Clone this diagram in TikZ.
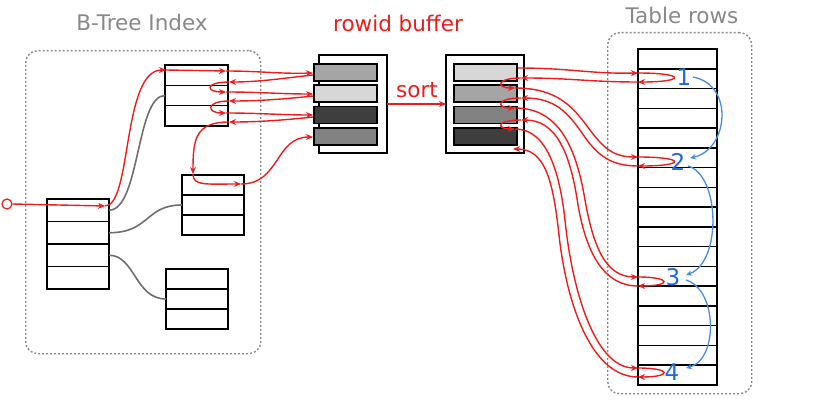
\documentclass[tikz,border=0pt]{standalone}
\usepackage{fontspec}
\setmainfont{DejaVu Sans}
\usetikzlibrary{arrows.meta}
\definecolor{rd}{RGB}{236,28,28}
\definecolor{gr}{RGB}{136,136,136}
\definecolor{dgr}{RGB}{110,110,110}
\definecolor{bl}{RGB}{30,105,225}
\definecolor{bla}{RGB}{70,140,230}
\definecolor{gA}{RGB}{215,215,215}
\definecolor{gB}{RGB}{165,165,165}
\definecolor{gC}{RGB}{130,130,130}
\definecolor{gD}{RGB}{62,62,62}
\begin{document}
\begin{tikzpicture}[x=1pt,y=-1pt,
  cell/.style={draw=black, line width=1.5pt, inner sep=0pt, outer sep=0pt, anchor=north west},
  dbox/.style={draw=gr, dash pattern=on 2pt off 2pt, line width=1.4pt, rounded corners=12pt, inner sep=0pt, anchor=north west},
  rl/.style={draw=rd, line width=1.4pt, -{Stealth[length=7pt,width=6pt]}},
  gl/.style={draw=dgr, line width=1.6pt},
  bll/.style={draw=bla, line width=1.3pt, -{Stealth[length=6pt,width=5.5pt]}},
  ttl/.style={inner sep=0pt, font=\fontsize{21.5}{21.5}\selectfont},
  num/.style={inner sep=0pt, text=bl, font=\fontsize{23}{23}\selectfont}]
\useasboundingbox (0,0) rectangle (822,403);
% dashed frames
\node[dbox, minimum width=235pt, minimum height=303pt] (idx) at (25,50) {};
\node[dbox, minimum width=144pt, minimum height=361pt] (tbl) at (607,32) {};
% titles
\node[ttl, text=gr] (tB) at (142,22) {B-Tree Index};
\node[ttl, text=rd] (tR) at (398,23.5) {rowid buffer};
\node[ttl, text=gr] (tT) at (682,15) {Table rows};
\node[ttl, text=rd] (tS) at (417,90) {sort};
% B-tree nodes
\foreach \i in {1,...,4}
  \node[cell, minimum width=62pt, minimum height=22.5pt] (root\i) at (47,{199+(\i-1)*22.5}) {};
\foreach \i in {1,...,3}
  \node[cell, minimum width=63pt, minimum height=20.33pt] (top\i) at (165,{65+(\i-1)*20.33}) {};
\foreach \i in {1,...,3}
  \node[cell, minimum width=62pt, minimum height=20pt] (mid\i) at (182,{175+(\i-1)*20}) {};
\foreach \i in {1,...,3}
  \node[cell, minimum width=62pt, minimum height=20pt] (bot\i) at (166,{269+(\i-1)*20}) {};
% rowid buffers
\node[cell, fill=white, minimum width=68pt, minimum height=98pt] (bufA) at (319,55) {};
\node[cell, fill=white, minimum width=78pt, minimum height=98pt] (bufB) at (446,55) {};
\node[cell, fill=gB, minimum width=63pt, minimum height=17pt] (a1s) at (314,64) {};
\node[cell, fill=gA, minimum width=63pt, minimum height=17pt] (a2s) at (314,85) {};
\node[cell, fill=gD, minimum width=63pt, minimum height=17pt] (a3s) at (314,106.5) {};
\node[cell, fill=gC, minimum width=63pt, minimum height=17pt] (a4s) at (314,128) {};
\node[cell, fill=gA, minimum width=63pt, minimum height=17pt] (b1s) at (454,64) {};
\node[cell, fill=gB, minimum width=63pt, minimum height=17pt] (b2s) at (454,85) {};
\node[cell, fill=gC, minimum width=63pt, minimum height=17pt] (b3s) at (454,106.5) {};
\node[cell, fill=gD, minimum width=63pt, minimum height=17pt] (b4s) at (454,128) {};
% table rows
\foreach \i in {1,...,17}
  \node[cell, minimum width=79pt, minimum height=19.765pt] (t\i) at (638,{49+(\i-1)*19.765}) {};
% numbers
\node[num] (n1) at (684,77) {1};
\node[num] (n2) at (678,162) {2};
\node[num] (n3) at (673,277) {3};
\node[num] (n4) at (672,372) {4};
% gray tree links
\draw[gl] (root1.east) .. controls (140,210) and (136,95.5) .. (top2.west);
\draw[gl] (root2.east) .. controls (150,232.75) and (145,205) .. (mid2.west);
\draw[gl] (root3.east) .. controls (135,255.25) and (135,299) .. (bot2.west);
% start circle
\node[draw=rd, circle, minimum size=10pt, inner sep=0pt, line width=1.2pt] (c0) at (7,204) {};
% left red path coordinates
\coordinate (p1) at (105,206);
\coordinate (p2) at (166,70);
\coordinate (p3) at (226,71);
\coordinate (p4) at (313,73);
\coordinate (p5) at (313,75);
\coordinate (p6) at (229,82);
\coordinate (p7) at (226,92);
\coordinate (p8) at (313,94);
\coordinate (p9) at (313,96);
\coordinate (p10) at (229,101);
\coordinate (p11) at (226,113);
\coordinate (p12) at (313,115);
\coordinate (p13) at (313,117);
\coordinate (p14) at (229,122);
\coordinate (p15) at (193,174);
\coordinate (p16) at (241,184);
\coordinate (p17) at (313,137);
\draw[rl] (c0.east) -- (p1);
\draw[rl] (p1) .. controls (132,206) and (122,70) .. (p2);
\draw[rl] (p2) -- (p3);
\draw[rl] (p3) .. controls (260,71) and (280,74) .. (p4);
\draw[rl] (p5) .. controls (285,78) and (260,82) .. (p6);
\draw[rl] (p6) .. controls (205,82) and (205,92) .. (p7);
\draw[rl] (p7) .. controls (260,92) and (280,94) .. (p8);
\draw[rl] (p9) .. controls (285,99) and (260,101) .. (p10);
\draw[rl] (p10) .. controls (206,101) and (206,113) .. (p11);
\draw[rl] (p11) .. controls (260,113) and (280,115) .. (p12);
\draw[rl] (p13) .. controls (285,120) and (260,122) .. (p14);
\draw[rl] (p14) .. controls (195,122) and (193,140) .. (p15);
\draw[rl] (p15) .. controls (193,186) and (205,184) .. (p16);
\draw[rl] (p16) .. controls (280,184) and (275,137) .. (p17);
% sort
\draw[rl] (bufA.east) -- (bufB.west);
% right red path coordinates
\coordinate (q1) at (518,68);
\coordinate (q2) at (638,73);
\coordinate (q3) at (638,82);
\coordinate (q4) at (521,78);
\coordinate (q5) at (515,88);
\coordinate (q6) at (638,157);
\coordinate (q7) at (638,166);
\coordinate (q8) at (521,98);
\coordinate (q9) at (515,108);
\coordinate (q10) at (638,277);
\coordinate (q11) at (638,286);
\coordinate (q12) at (521,120);
\coordinate (q13) at (515,129);
\coordinate (q14) at (638,368);
\coordinate (q15) at (638,377);
\coordinate (q16) at (513,149);
\draw[rl] (q1) .. controls (570,68) and (590,74) .. (q2);
\draw[rl] (q2) .. controls (686,73) and (686,82) .. (q3);
\draw[rl] (q3) .. controls (590,82) and (570,78) .. (q4);
\draw[rl] (q4) .. controls (496,78) and (496,88) .. (q5);
\draw[rl] (q5) .. controls (560,88) and (575,110) .. (590,130) .. controls (605,150) and (615,157) .. (q6);
\draw[rl] (q6) .. controls (686,157) and (686,166) .. (q7);
\draw[rl] (q7) .. controls (610,166) and (597,155) .. (582,133) .. controls (568,113) and (555,98) .. (q8);
\draw[rl] (q8) .. controls (496,98) and (496,108) .. (q9);
\draw[rl] (q9) .. controls (555,108) and (575,140) .. (585,200) .. controls (593,245) and (605,277) .. (q10);
\draw[rl] (q10) .. controls (672,277) and (672,286) .. (q11);
\draw[rl] (q11) .. controls (600,286) and (585,245) .. (578,205) .. controls (570,150) and (555,120) .. (q12);
\draw[rl] (q12) .. controls (496,120) and (496,129) .. (q13);
\draw[rl] (q13) .. controls (548,129) and (560,175) .. (565,220) .. controls (572,290) and (595,368) .. (q14);
\draw[rl] (q14) .. controls (672,368) and (672,377) .. (q15);
\draw[rl] (q15) .. controls (590,377) and (566,300) .. (559,235) .. controls (553,180) and (545,149) .. (q16);
% blue order arrows
\coordinate (u1) at (693,77);
\coordinate (u2) at (690,158);
\coordinate (u3) at (688,166);
\coordinate (u4) at (686,275);
\coordinate (u5) at (686,280);
\coordinate (u6) at (686,368);
\draw[bll] (u1) .. controls (735,85) and (728,150) .. (u2);
\draw[bll] (u3) .. controls (720,175) and (722,262) .. (u4);
\draw[bll] (u5) .. controls (718,290) and (718,360) .. (u6);
\end{tikzpicture}
\end{document}
